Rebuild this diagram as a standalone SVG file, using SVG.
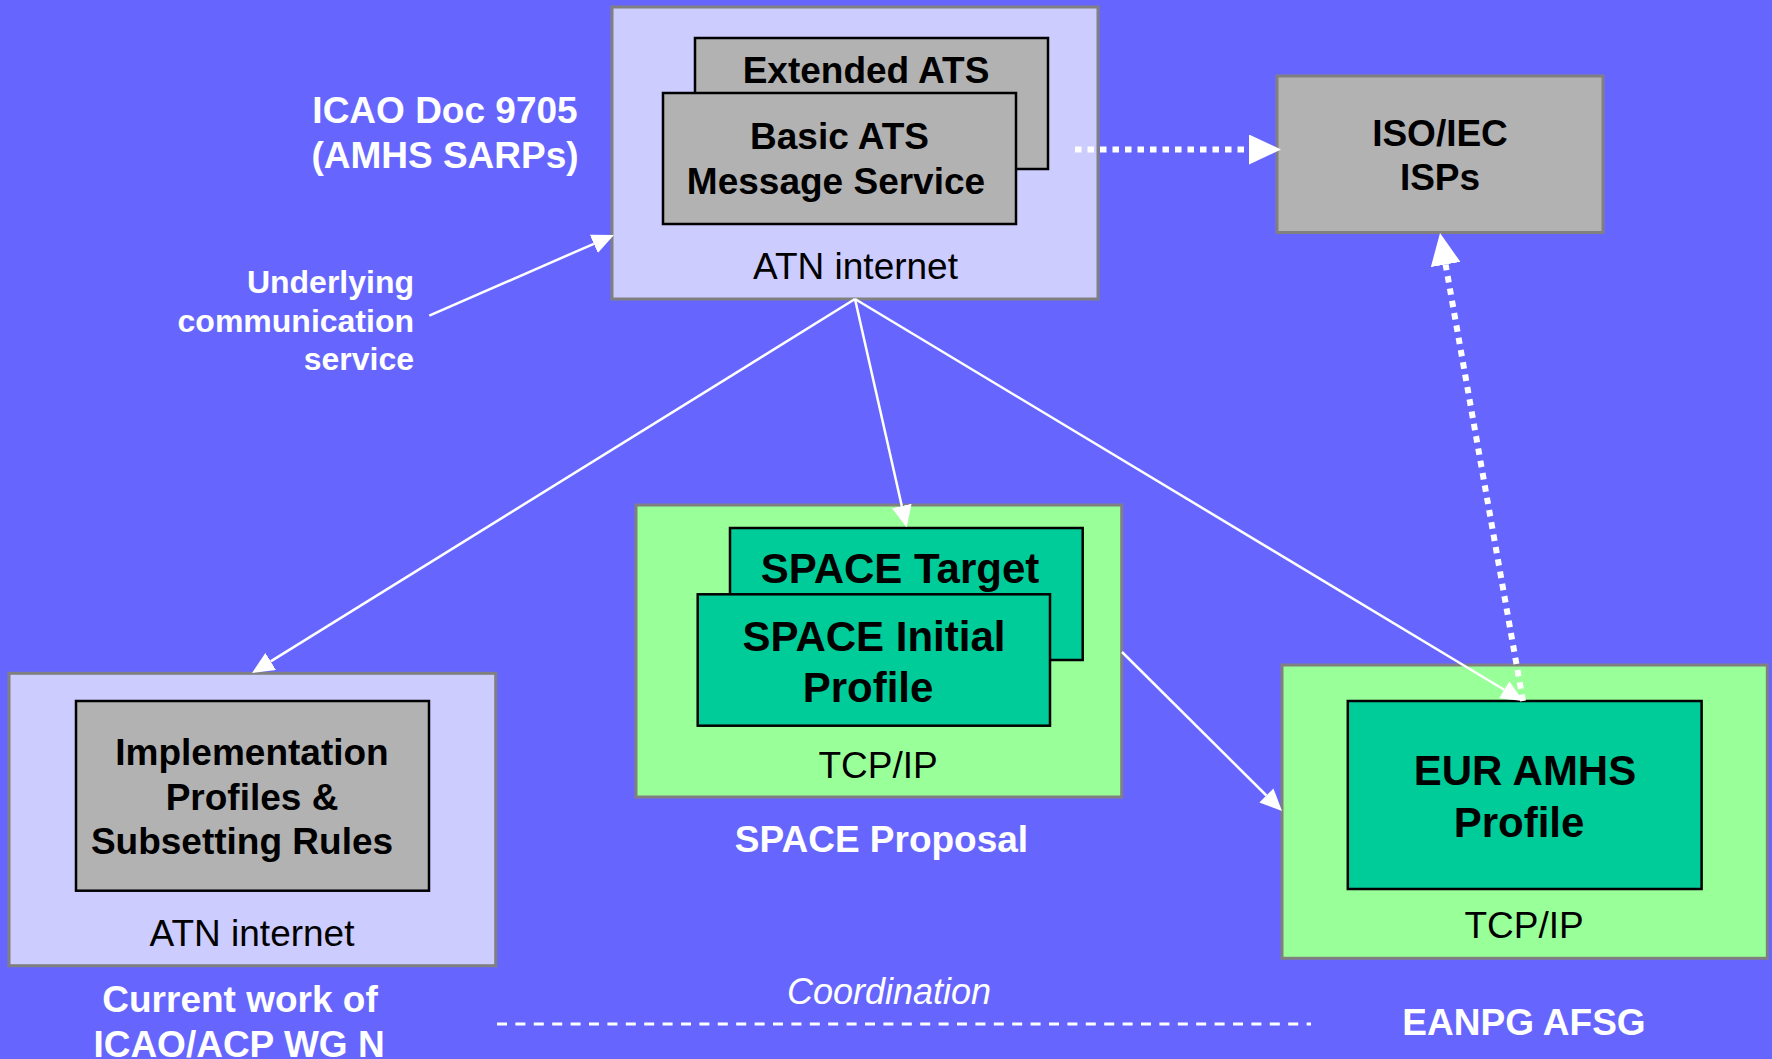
<svg xmlns="http://www.w3.org/2000/svg" width="1772" height="1059" viewBox="0 0 1772 1059">
<style>
text{font-family:"Liberation Sans",Arial,sans-serif;}
.b{font-weight:bold;font-size:37px;fill:#000;text-anchor:middle;}
.bl{font-weight:bold;font-size:42px;fill:#000;text-anchor:middle;}
.n{font-size:37px;fill:#000;text-anchor:middle;}
.w{font-weight:bold;font-size:37px;fill:#fff;text-anchor:middle;}
.ws{font-weight:bold;font-size:32px;fill:#fff;text-anchor:end;}
.outer-lav{fill:#ccccff;stroke:#808080;stroke-width:3;}
.outer-grn{fill:#99ff99;stroke:#808080;stroke-width:3;}
.gray{fill:#b2b2b2;stroke:#000;stroke-width:2.5;}
.gray2{fill:#b2b2b2;stroke:#808080;stroke-width:3;}
.teal{fill:#00cc99;stroke:#000;stroke-width:2.5;}
.line{stroke:#fff;stroke-width:2.5;fill:none;marker-end:url(#ah);}
.dot{stroke:#fff;stroke-width:6;fill:none;stroke-dasharray:6.5 6;marker-end:url(#ahL);}
</style>
<defs>
<marker id="ah" markerUnits="userSpaceOnUse" viewBox="0 0 22 20" refX="0" refY="10" markerWidth="22" markerHeight="20" orient="auto"><path d="M0,0 L22,10 L0,20 Z" fill="#fff"/></marker>
<marker id="ahL" markerUnits="userSpaceOnUse" viewBox="0 0 32 30" refX="0" refY="15" markerWidth="32" markerHeight="30" orient="auto"><path d="M0,0 L32,15 L0,30 Z" fill="#fff"/></marker>
</defs>
<rect x="0" y="0" width="1772" height="1059" fill="#6666ff"/>

<g id="atn-top">
<rect class="outer-lav" x="612" y="7" width="486" height="292"/>
<g id="extended-ats"><rect class="gray" x="695" y="38" width="353" height="131"/><text class="b" x="866" y="83">Extended ATS</text></g>
<g id="basic-ats"><rect class="gray" x="663" y="93" width="353" height="131"/><text class="b" x="839.5" y="149">Basic ATS</text><text class="b" x="836" y="194">Message Service</text></g>
<text class="n" x="855.5" y="279">ATN internet</text>
</g>

<g id="icao-label"><text class="w" x="445" y="123">ICAO Doc 9705</text><text class="w" x="445" y="168">(AMHS SARPs)</text></g>
<g id="underlying-label"><text class="ws" x="414" y="293">Underlying</text><text class="ws" x="414" y="332">communication</text><text class="ws" x="414" y="370">service</text></g>

<g id="iso-isps"><rect class="gray2" x="1277" y="76" width="326" height="156.5"/><text class="b" x="1440" y="146">ISO/IEC</text><text class="b" x="1440" y="190">ISPs</text></g>

<g id="space">
<rect class="outer-grn" x="636" y="505" width="485.7" height="292"/>
<g id="space-target"><rect class="teal" x="730" y="528" width="352.7" height="132"/><text class="bl" x="900" y="583">SPACE Target</text></g>
<g id="space-initial"><rect class="teal" x="697.7" y="594.3" width="352.3" height="131.4"/><text class="bl" x="874" y="651">SPACE Initial</text><text class="bl" x="868" y="701.5">Profile</text></g>
<text class="n" x="878" y="778">TCP/IP</text>
</g>
<g id="space-label"><text class="w" x="881.5" y="851.5">SPACE Proposal</text></g>

<g id="atn-left">
<rect class="outer-lav" x="9" y="673.3" width="486.7" height="292.4"/>
<g id="impl-profiles"><rect class="gray" x="76" y="701" width="353" height="189.7"/>
<text class="b" x="252" y="765">Implementation</text><text class="b" x="252" y="810">Profiles &amp;</text><text class="b" x="242" y="854">Subsetting Rules</text></g>
<text class="n" x="252" y="945.5">ATN internet</text>
</g>
<g id="icao-wg-label"><text class="w" x="240" y="1011.5">Current work of</text><text class="w" x="239" y="1057">ICAO/ACP WG N</text></g>

<g id="eur">
<rect class="outer-grn" x="1282" y="665" width="485.3" height="293.3"/>
<g id="eur-amhs"><rect class="teal" x="1347.8" y="701" width="353.8" height="188"/><text class="bl" x="1525" y="785">EUR AMHS</text><text class="bl" x="1519" y="836.5">Profile</text></g>
<text class="n" x="1524" y="938">TCP/IP</text>
</g>
<g id="eanpg-label"><text class="w" x="1524" y="1035">EANPG AFSG</text></g>

<g id="coordination"><text x="889" y="1004" font-size="36" font-style="italic" fill="#fff" text-anchor="middle">Coordination</text></g>

<g id="connectors">
<path class="line" d="M855,299 L1504.2,689.7"/>
<path class="line" d="M855,299 L901.8,506"/>
<path class="line" d="M855,299 L270.7,661.4"/>
<path class="line" d="M429.3,315.7 L593.8,243.8"/>
<path class="line" d="M1122,652 L1266.4,795.5"/>
<path class="dot" d="M1075,149.5 L1249,149.5"/>
<path class="dot" d="M1523,701 L1445.6,264.5"/>
<path d="M497,1024 L1311,1024" stroke="#fff" stroke-width="3" stroke-dasharray="10 8.4" fill="none"/>
</g>
</svg>
